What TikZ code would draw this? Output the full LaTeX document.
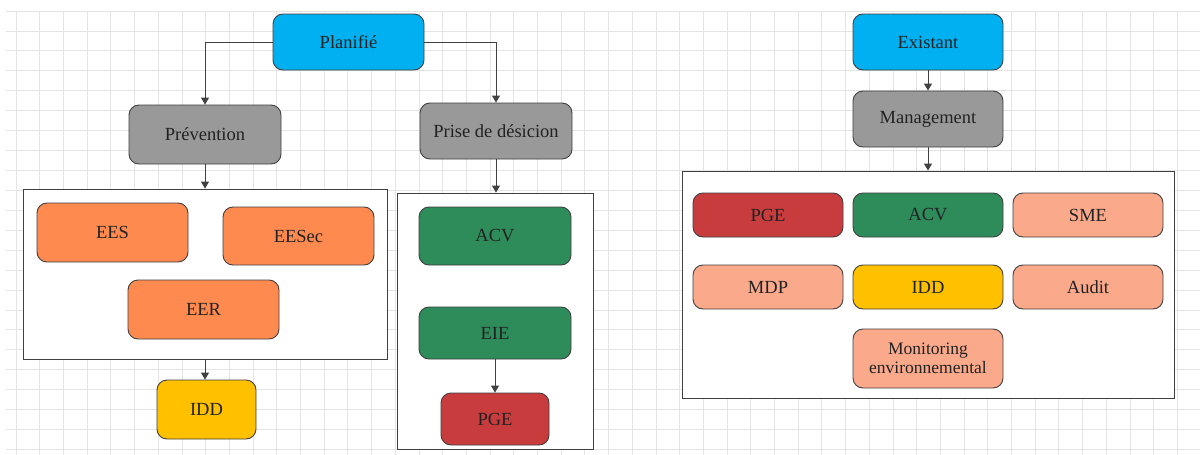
\documentclass[tikz,border=0pt]{standalone}
\usepackage{fontspec}
\setmainfont{Liberation Serif}
\newfontfamily\labelfont{Liberation Serif}
\usetikzlibrary{arrows.meta}
\definecolor{cCyan}{HTML}{00B0F0}
\definecolor{cGray}{HTML}{999999}
\definecolor{cOrange}{HTML}{FF8A50}
\definecolor{cGreen}{HTML}{2E8B5A}
\definecolor{cRed}{HTML}{C93C3E}
\definecolor{cYellow}{HTML}{FFC000}
\definecolor{cSalmon}{HTML}{FBA98B}
\definecolor{cLine}{HTML}{404040}
\definecolor{cText}{HTML}{222222}
\definecolor{cGrid}{HTML}{E4E4E4}
\tikzset{
  boxnode/.style={draw=cLine, line width=0.9pt, rounded corners=10pt, inner sep=0pt,
    text=cText, font=\labelfont\fontsize{18.5}{20}\selectfont, align=center},
  container/.style={draw=cLine, line width=0.9pt, fill=white, inner sep=0pt},
  arr/.style={draw=cLine, line width=0.9pt, -{Triangle[length=7pt,width=8pt]}},
  gridline/.style={draw=cGrid, line width=0.8pt}
}
\begin{document}
\begin{tikzpicture}[x=1pt,y=-1pt]
\useasboundingbox[fill=white] (0,0) rectangle (1200,455);
% grid
\foreach \i in {0,...,22} {\draw[gridline] (6,11+19.93*\i) -- (1200,11+19.93*\i);}
\foreach \i in {0,...,49} {\draw[gridline] (16+23.7*\i,11) -- (16+23.7*\i,455);}
% containers
\node[container, minimum width=364pt, minimum height=170pt] (lbox) at (205,274) {};
\node[container, minimum width=196pt, minimum height=256pt] (mbox) at (495,321) {};
\node[container, minimum width=492pt, minimum height=227pt] (rbox) at (928,284.5) {};
% left tree
\node[boxnode, fill=cCyan, minimum width=151pt, minimum height=56pt] (plan) at (348.5,42) {Planifié};
\node[boxnode, fill=cGray, minimum width=152pt, minimum height=59pt] (prev) at (205,134.5) {Prévention};
\node[boxnode, fill=cGray, minimum width=152pt, minimum height=56pt] (prise) at (496,131) {Prise de désicion};
\node[boxnode, fill=cOrange, minimum width=151pt, minimum height=59pt] (ees) at (112.5,232.5) {EES};
\node[boxnode, fill=cOrange, minimum width=151pt, minimum height=58pt] (eesec) at (298.5,236) {EESec};
\node[boxnode, fill=cOrange, minimum width=151pt, minimum height=59pt] (eer) at (203.5,309.5) {EER};
\node[boxnode, fill=cYellow, minimum width=99pt, minimum height=59pt] (iddl) at (206.5,409.5) {IDD};
\node[boxnode, fill=cGreen, minimum width=152pt, minimum height=58pt] (acvm) at (495,236) {ACV};
\node[boxnode, fill=cGreen, minimum width=152pt, minimum height=52pt] (eie) at (495,333) {EIE};
\node[boxnode, fill=cRed, minimum width=108pt, minimum height=52pt] (pgem) at (495,419) {PGE};
% right tree
\node[boxnode, fill=cCyan, minimum width=150pt, minimum height=56pt] (exist) at (928,42) {Existant};
\node[boxnode, fill=cGray, minimum width=150pt, minimum height=56pt] (manag) at (928,119) {Management};
\node[boxnode, fill=cRed, minimum width=150pt, minimum height=44pt] (pger) at (768,215) {PGE};
\node[boxnode, fill=cGreen, minimum width=150pt, minimum height=44pt] (acvr) at (928,215) {ACV};
\node[boxnode, fill=cSalmon, minimum width=150pt, minimum height=44pt] (sme) at (1088,215) {SME};
\node[boxnode, fill=cSalmon, minimum width=150pt, minimum height=44pt] (mdp) at (768,287) {MDP};
\node[boxnode, fill=cYellow, minimum width=150pt, minimum height=44pt] (iddr) at (928,287) {IDD};
\node[boxnode, fill=cSalmon, minimum width=150pt, minimum height=44pt] (audit) at (1088,287) {Audit};
\node[boxnode, fill=cSalmon, minimum width=150pt, minimum height=59pt, font=\labelfont\fontsize{17.5}{19.5}\selectfont] (monit) at (928,358.5) {Monitoring\\environnemental};
% connectors
\draw[arr] (plan.west) -| (prev.north);
\draw[arr] (plan.east) -| (prise.north);
\draw[arr] (prev.south) -- (prev.south |- lbox.north);
\draw[arr] (lbox.south) -- (iddl.north -| lbox.south);
\draw[arr] (prise.south) -- (prise.south |- mbox.north);
\draw[arr] (eie.south) -- (pgem.north);
\draw[arr] (exist.south) -- (manag.north);
\draw[arr] (manag.south) -- (rbox.north);
\end{tikzpicture}
\end{document}
